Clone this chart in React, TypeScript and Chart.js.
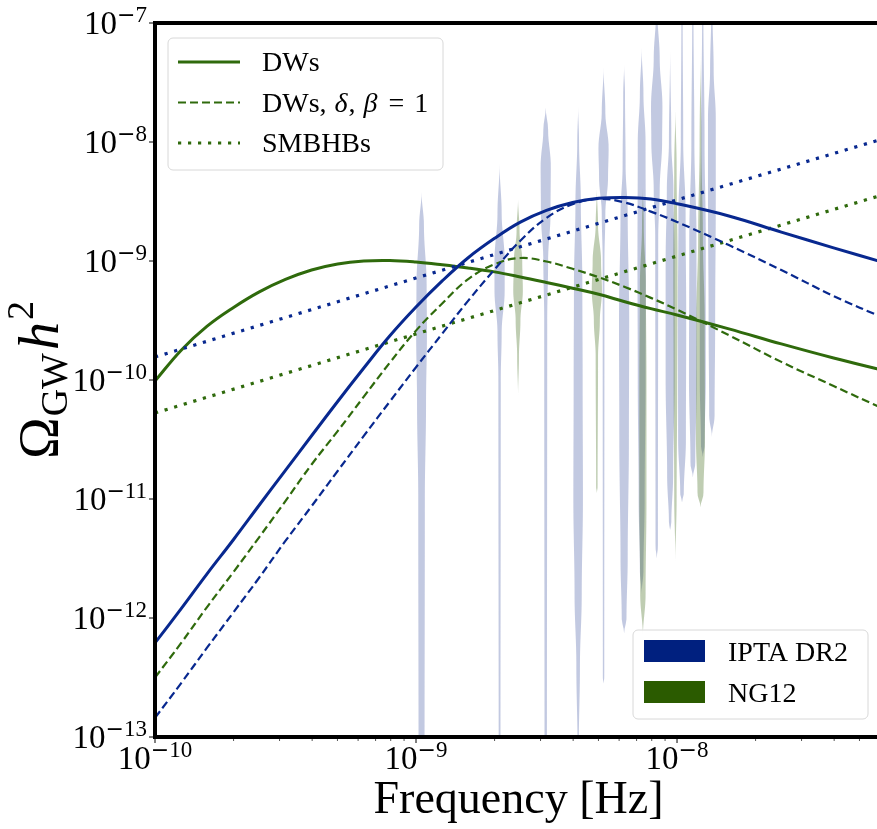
import React, { useEffect, useRef } from 'react';
import { Chart, registerables } from 'chart.js';

Chart.register(...registerables);

const SERIF = '"Liberation Serif", "Times New Roman", serif';
const MINUS_FONT = '"DejaVu Sans", sans-serif';

const BLUE_LINE = '#08288f';
const GREEN_LINE = '#2f6a0c';
const BLUE_PATCH = '#00207f';
const GREEN_PATCH = '#2b5b00';
const BLUE_VIOLIN = 'rgba(0, 31, 128, 0.24)';
const GREEN_VIOLIN = 'rgba(42, 90, 0, 0.30)';

// Frequencies (Hz) at which the model curves were read
const curveFreqs = [
  1e-10, 1.26e-10, 1.58e-10, 2e-10, 2.51e-10, 3.16e-10, 3.98e-10, 5.01e-10, 6.31e-10, 7.94e-10,
  1e-9, 1.26e-9, 1.58e-9, 2e-9, 2.51e-9, 3.16e-9, 3.98e-9, 5.01e-9, 6.31e-9, 7.94e-9,
  1e-8, 1.58e-8, 2.51e-8, 3.98e-8, 6.31e-8,
];
// DWs, NG12 fit (green solid)
const dwNG = [
  9.8e-11, 1.78e-10, 2.82e-10, 4.07e-10, 5.5e-10, 7.0e-10, 8.4e-10, 9.44e-10, 1.0e-9, 1.01e-9,
  9.8e-10, 9.3e-10, 8.75e-10, 8.1e-10, 7.35e-10, 6.6e-10, 5.9e-10, 5.25e-10, 4.55e-10, 3.98e-10,
  3.52e-10, 2.69e-10, 2.01e-10, 1.53e-10, 1.19e-10,
];
// DWs, IPTA DR2 fit (blue solid)
const dwIPTA = [
  6.17e-13, 1.2e-12, 2.34e-12, 4.57e-12, 8.9e-12, 1.74e-11, 3.4e-11, 6.6e-11, 1.26e-10, 2.35e-10,
  4.1e-10, 6.8e-10, 1.06e-9, 1.55e-9, 2.12e-9, 2.66e-9, 3.1e-9, 3.36e-9, 3.42e-9, 3.32e-9,
  3.03e-9, 2.39e-9, 1.75e-9, 1.29e-9, 9.6e-10,
];
// DWs, delta, beta = 1, NG12 (green dashed)
const dwDeltaNG = [
  3.16e-13, 6.17e-13, 1.23e-12, 2.44e-12, 4.79e-12, 9.6e-12, 1.95e-11, 3.72e-11, 7.24e-11, 1.4e-10,
  2.6e-10, 4.4e-10, 7.0e-10, 9.4e-10, 1.06e-9, 9.9e-10, 8.6e-10, 7.3e-10, 6.05e-10, 4.9e-10,
  3.9e-10, 2.38e-10, 1.42e-10, 8.9e-11, 5.6e-11,
];
// DWs, delta, beta = 1, IPTA DR2 (blue dashed)
const dwDeltaIPTA = [
  1.45e-13, 2.84e-13, 5.6e-13, 1.12e-12, 2.19e-12, 4.44e-12, 8.7e-12, 1.72e-11, 3.39e-11, 6.6e-11,
  1.28e-10, 2.45e-10, 4.6e-10, 8.5e-10, 1.48e-9, 2.3e-9, 3.0e-9, 3.32e-9, 3.1e-9, 2.6e-9,
  2.13e-9, 1.36e-9, 8.4e-10, 5.08e-10, 3.26e-10,
];
// SMBHBs power laws
const smbhbFreqs = [1e-10, 1e-9, 1e-8, 6.31e-8];
const smbhbIPTA = [1.56e-10, 7.2e-10, 3.26e-9, 1.08e-8];
const smbhbNG = [5.28e-11, 2.44e-10, 1.1e-9, 3.66e-9];

// Violins: frequency bins and [log10 Omega, relative density] profiles (top to bottom)
const iptaFreqs = [1.05e-9, 2.09e-9, 3.14e-9, 4.18e-9, 5.23e-9, 6.27e-9, 7.32e-9, 8.36e-9, 9.41e-9, 1.045e-8, 1.15e-8, 1.255e-8, 1.36e-8];
const iptaViolins: [number, number][][] = [
  [[-8.42, 0], [-8.7, 0.4], [-9.2, 0.85], [-9.6, 0.9], [-10.2, 0.75], [-11, 0.55], [-13.3, 0.5]],
  [[-8.18, 0], [-8.6, 0.35], [-9.0, 0.85], [-9.25, 0.85], [-9.6, 0.35], [-10.0, 0.2], [-13.3, 0.15]],
  [[-7.71, 0], [-7.9, 0.4], [-8.2, 0.85], [-8.6, 0.8], [-9.0, 0.4], [-9.5, 0.25], [-13.3, 0.2]],
  [[-7.70, 0], [-8.0, 0.15], [-8.5, 0.45], [-9.2, 0.7], [-10.0, 0.75], [-11.0, 0.8], [-11.8, 0.6], [-12.4, 0.3], [-13.1, 0.1]],
  [[-7.37, 0], [-7.75, 0.3], [-8.05, 0.85], [-8.3, 0.75], [-8.6, 0.3], [-9.0, 0.15], [-12.5, 0.12], [-12.55, 0]],
  [[-7.35, 0], [-7.6, 0.15], [-8.2, 0.25], [-8.6, 0.6], [-9.5, 0.85], [-10.5, 0.8], [-11.5, 0.6], [-12.0, 0.4], [-12.13, 0]],
  [[-7.2, 0], [-7.6, 0.3], [-8.0, 0.65], [-9.0, 0.7], [-10.0, 0.65], [-11.0, 0.5], [-11.6, 0.3], [-11.8, 0]],
  [[-6.9, 0.1], [-7.3, 0.5], [-7.7, 0.95], [-8.0, 0.9], [-8.4, 0.5], [-8.8, 0.25], [-11.4, 0.2], [-11.5, 0]],
  [[-7.2, 0], [-8.0, 0.2], [-8.4, 0.55], [-9.0, 0.75], [-10.0, 0.75], [-10.8, 0.5], [-11.2, 0.2], [-11.26, 0]],
  [[-6.9, 0.1], [-8.0, 0.2], [-8.6, 0.6], [-9.5, 0.7], [-10.5, 0.65], [-10.95, 0.3], [-11.03, 0]],
  [[-6.9, 0.1], [-8.0, 0.25], [-8.8, 0.6], [-10.0, 0.65], [-10.7, 0.4], [-10.82, 0]],
  [[-6.9, 0.1], [-8.0, 0.3], [-8.8, 0.5], [-10.0, 0.5], [-10.55, 0.3], [-10.65, 0]],
  [[-6.9, 0.1], [-7.4, 0.3], [-7.8, 0.65], [-8.5, 0.65], [-9.5, 0.55], [-10.3, 0.45], [-10.48, 0]],
];
const ngFreqs = [2.46e-9, 4.93e-9, 7.4e-9, 9.86e-9, 1.23e-8];
const ngViolins: [number, number][][] = [
  [[-8.47, 0], [-8.75, 0.25], [-9.0, 0.7], [-9.25, 0.8], [-9.5, 0.4], [-9.8, 0.15], [-10.14, 0]],
  [[-8.38, 0], [-8.7, 0.2], [-9.0, 0.7], [-9.25, 0.85], [-9.5, 0.5], [-9.8, 0.2], [-10.9, 0.12], [-10.95, 0]],
  [[-8.38, 0], [-8.7, 0.15], [-9.2, 0.5], [-10, 0.6], [-11, 0.6], [-11.8, 0.45], [-12.16, 0]],
  [[-7.71, 0], [-8.2, 0.2], [-9.0, 0.35], [-10.0, 0.3], [-11.0, 0.2], [-11.54, 0]],
  [[-7.24, 0], [-8.0, 0.15], [-8.8, 0.4], [-9.5, 0.7], [-10.5, 0.75], [-10.95, 0.5], [-11.07, 0]],
];

const xDecades = [-10, -9, -8, -7];
const yDecades = [-13, -12, -11, -10, -9, -8, -7];

const legendLines = ['DWs', 'DWs, δ, β = 1', 'SMBHBs'];
const legendPatches = ['IPTA DR2', 'NG12'];

const VIOLIN_HALF_WIDTH = 6;

function densityAt(profile: [number, number][], v: number) {
  for (let i = 0; i < profile.length - 1; i++) {
    const [a, da] = profile[i];
    const [b, db] = profile[i + 1];
    if (v <= a && v >= b) {
      const t = (a - v) / (a - b);
      const s = (1 - Math.cos(Math.PI * t)) / 2;
      return da + (db - da) * s;
    }
  }
  return 0;
}

function drawViolin(ctx: CanvasRenderingContext2D, chart: any, f: number, profile: [number, number][], color: string) {
  const xs = chart.scales.x;
  const ys = chart.scales.y;
  const cx = xs.getPixelForValue(f);
  const top = profile[0][0];
  const bot = profile[profile.length - 1][0];
  const N = 120;
  const pts: [number, number][] = [];
  for (let i = 0; i <= N; i++) {
    const v = top + ((bot - top) * i) / N;
    pts.push([ys.getPixelForValue(Math.pow(10, v)), densityAt(profile, v) * VIOLIN_HALF_WIDTH]);
  }
  ctx.beginPath();
  pts.forEach(([py, w], i) => (i ? ctx.lineTo(cx + w, py) : ctx.moveTo(cx + w, py)));
  for (let i = N; i >= 0; i--) ctx.lineTo(cx - pts[i][1], pts[i][0]);
  ctx.closePath();
  ctx.fillStyle = color;
  ctx.fill();
}

function drawPow(ctx: CanvasRenderingContext2D, exp: number, x: number, yc: number, align: 'center' | 'right') {
  const base = '10';
  const digits = String(Math.abs(exp));
  ctx.font = `33px ${SERIF}`;
  const wb = ctx.measureText(base).width;
  ctx.font = `22px ${MINUS_FONT}`;
  const wm = ctx.measureText('−').width;
  ctx.font = `23px ${SERIF}`;
  const wd = ctx.measureText(digits).width;
  const total = wb + wm + wd;
  const x0 = align === 'center' ? x - total / 2 : x - total;
  ctx.textAlign = 'left';
  ctx.textBaseline = 'alphabetic';
  ctx.fillStyle = '#000';
  ctx.font = `33px ${SERIF}`;
  ctx.fillText(base, x0, yc + 11);
  ctx.font = `22px ${MINUS_FONT}`;
  ctx.fillText('−', x0 + wb, yc - 1);
  ctx.font = `23px ${SERIF}`;
  ctx.fillText(digits, x0 + wb + wm, yc - 1);
}

type Piece = { t: string; font: string; dy: number; gap?: number };

function drawPieces(ctx: CanvasRenderingContext2D, pieces: Piece[], x: number, y: number) {
  let cx = x;
  for (const p of pieces) {
    ctx.font = p.font;
    ctx.fillText(p.t, cx, y + p.dy);
    cx += ctx.measureText(p.t).width + (p.gap || 0);
  }
  return cx;
}

function piecesWidth(ctx: CanvasRenderingContext2D, pieces: Piece[]) {
  let w = 0;
  for (const p of pieces) {
    ctx.font = p.font;
    w += ctx.measureText(p.t).width + (p.gap || 0);
  }
  return w;
}

function roundRect(ctx: CanvasRenderingContext2D, x: number, y: number, w: number, h: number, r: number) {
  ctx.beginPath();
  ctx.moveTo(x + r, y);
  ctx.lineTo(x + w - r, y);
  ctx.arcTo(x + w, y, x + w, y + r, r);
  ctx.lineTo(x + w, y + h - r);
  ctx.arcTo(x + w, y + h, x + w - r, y + h, r);
  ctx.lineTo(x + r, y + h);
  ctx.arcTo(x, y + h, x, y + h - r, r);
  ctx.lineTo(x, y + r);
  ctx.arcTo(x, y, x + r, y, r);
  ctx.closePath();
}

const violinPlugin = {
  id: 'violins',
  beforeDatasetsDraw(chart: any) {
    const { ctx, chartArea: ca } = chart;
    ctx.save();
    ctx.beginPath();
    ctx.rect(ca.left, ca.top, ca.right - ca.left, ca.bottom - ca.top);
    ctx.clip();
    iptaFreqs.forEach((f, i) => drawViolin(ctx, chart, f, iptaViolins[i], BLUE_VIOLIN));
    ngFreqs.forEach((f, i) => drawViolin(ctx, chart, f, ngViolins[i], GREEN_VIOLIN));
    ctx.restore();
  },
};

const decorPlugin = {
  id: 'decor',
  afterDraw(chart: any) {
    const { ctx, chartArea: ca } = chart;
    const xs = chart.scales.x;
    const ys = chart.scales.y;
    ctx.save();

    // legend 1 (line styles, green)
    {
      const lx = ca.left + 13;
      const ly = ca.top + 15;
      roundRect(ctx, lx, ly, 275, 132, 5);
      ctx.fillStyle = 'rgba(255,255,255,0.85)';
      ctx.fill();
      ctx.strokeStyle = '#d8d8d8';
      ctx.lineWidth = 1;
      ctx.stroke();
      const dsList = [chart.data.datasets[3], chart.data.datasets[4], chart.data.datasets[5]];
      dsList.forEach((ds: any, i: number) => {
        const ry = ly + 24 + i * 40.5;
        ctx.beginPath();
        ctx.strokeStyle = ds.borderColor;
        ctx.lineWidth = ds.borderWidth;
        ctx.setLineDash(ds.borderDash || []);
        ctx.moveTo(lx + 10, ry);
        ctx.lineTo(lx + 72, ry);
        ctx.stroke();
        ctx.setLineDash([]);
        ctx.fillStyle = '#000';
        ctx.textAlign = 'left';
        ctx.textBaseline = 'alphabetic';
        if (i === 1) {
          drawPieces(ctx, [
            { t: 'DWs, ', font: `28px ${SERIF}`, dy: 0, gap: 1 },
            { t: 'δ', font: `italic 28px ${SERIF}`, dy: 0, gap: 1 },
            { t: ', ', font: `28px ${SERIF}`, dy: 0, gap: 1 },
            { t: 'β', font: `italic 28px ${SERIF}`, dy: 0, gap: 4 },
            { t: ' = ', font: `28px ${SERIF}`, dy: 0, gap: 3 },
            { t: '1', font: `28px ${SERIF}`, dy: 0 },
          ], lx + 94, ry + 9);
        } else {
          ctx.font = `28px ${SERIF}`;
          ctx.fillText(legendLines[i], lx + 94, ry + 9);
        }
      });
    }

    // legend 2 (data patches)
    {
      const w = 235;
      const h = 89;
      const lx = ca.right - 14 - w;
      const ly = ca.bottom - 18 - h;
      roundRect(ctx, lx, ly, w, h, 5);
      ctx.fillStyle = 'rgba(255,255,255,0.85)';
      ctx.fill();
      ctx.strokeStyle = '#d8d8d8';
      ctx.lineWidth = 1;
      ctx.stroke();
      const cols = [BLUE_PATCH, GREEN_PATCH];
      legendPatches.forEach((t, i) => {
        const ry = ly + 21 + i * 41;
        ctx.fillStyle = cols[i];
        ctx.fillRect(lx + 11, ry - 11, 61, 22);
        ctx.fillStyle = '#000';
        ctx.font = `28px ${SERIF}`;
        ctx.textAlign = 'left';
        ctx.textBaseline = 'alphabetic';
        ctx.fillText(t, lx + 95, ry + 10);
      });
    }

    // tick marks
    ctx.lineWidth = 1;
    for (const d of xDecades) {
      for (let m = 1; m <= 9; m++) {
        const v = m * Math.pow(10, d);
        if (v < xs.min * 0.999 || v > xs.max) continue;
        const px = xs.getPixelForValue(v);
        ctx.beginPath();
        ctx.strokeStyle = m === 1 ? '#000' : '#555';
        ctx.moveTo(px, ca.bottom);
        ctx.lineTo(px, ca.bottom + (m === 1 ? 6 : 4));
        ctx.stroke();
      }
    }
    for (const d of yDecades) {
      const py = ys.getPixelForValue(Math.pow(10, d));
      ctx.beginPath();
      ctx.strokeStyle = '#000';
      ctx.moveTo(ca.left, py);
      ctx.lineTo(ca.left - 6, py);
      ctx.stroke();
    }

    // frame (left, bottom, top)
    ctx.strokeStyle = '#000';
    ctx.lineWidth = 4;
    ctx.beginPath();
    ctx.moveTo(ca.right + 2, ca.top);
    ctx.lineTo(ca.left, ca.top);
    ctx.lineTo(ca.left, ca.bottom);
    ctx.lineTo(ca.right + 2, ca.bottom);
    ctx.stroke();

    // tick labels
    for (const d of yDecades) {
      drawPow(ctx, d, ca.left - 8, ys.getPixelForValue(Math.pow(10, d)), 'right');
    }
    for (const d of xDecades) {
      const v = Math.pow(10, d);
      if (v > xs.max) continue;
      drawPow(ctx, d, xs.getPixelForValue(v), ca.bottom + 21, 'center');
    }

    // x title
    ctx.fillStyle = '#000';
    ctx.font = `46px ${SERIF}`;
    ctx.textAlign = 'center';
    ctx.textBaseline = 'alphabetic';
    ctx.fillText('Frequency [Hz]', (ca.left + ca.right) / 2, ca.bottom + 76);

    // y title
    const pieces: Piece[] = [
      { t: 'Ω', font: `56px ${SERIF}`, dy: 0, gap: 1 },
      { t: 'GW', font: `38px ${SERIF}`, dy: 9, gap: 3 },
      { t: 'h', font: `italic 56px ${SERIF}`, dy: 0, gap: 2 },
      { t: '2', font: `38px ${SERIF}`, dy: -25 },
    ];
    ctx.save();
    ctx.translate(58, (ca.top + ca.bottom) / 2);
    ctx.rotate(-Math.PI / 2);
    ctx.textAlign = 'left';
    const tw = piecesWidth(ctx, pieces);
    drawPieces(ctx, pieces, -tw / 2, 0);
    ctx.restore();

    ctx.restore();
  },
};

function mk(label: string, xsArr: number[], ysArr: number[], color: string, width: number, dash: number[], smooth: boolean) {
  return {
    label,
    data: xsArr.map((x, i) => ({ x, y: ysArr[i] })),
    borderColor: color,
    backgroundColor: color,
    borderWidth: width,
    borderDash: dash,
    pointRadius: 0,
    fill: false,
    tension: smooth ? 0.4 : 0,
  };
}

export default function App() {
  const ref = useRef<HTMLCanvasElement | null>(null);
  useEffect(() => {
    if (!ref.current) return;
    const chart = new Chart(ref.current, {
      type: 'line',
      data: {
        datasets: [
          mk('DWs IPTA', curveFreqs, dwIPTA, BLUE_LINE, 3, [], true),
          mk('DWs δ,β IPTA', curveFreqs, dwDeltaIPTA, BLUE_LINE, 2.2, [8, 4], true),
          mk('SMBHBs IPTA', smbhbFreqs, smbhbIPTA, BLUE_LINE, 3.2, [3.2, 6.8], false),
          mk('DWs', curveFreqs, dwNG, GREEN_LINE, 3, [], true),
          mk('DWs, δ, β = 1', curveFreqs, dwDeltaNG, GREEN_LINE, 2.2, [8, 4], true),
          mk('SMBHBs', smbhbFreqs, smbhbNG, GREEN_LINE, 3.2, [3.2, 6.8], false),
        ] as any,
      },
      options: {
        animation: false,
        responsive: false,
        devicePixelRatio: 1,
        events: [],
        layout: { padding: { top: 23, right: 8, left: 0, bottom: 0 } },
        plugins: { legend: { display: false }, tooltip: { enabled: false } },
        scales: {
          x: {
            type: 'logarithmic',
            min: 1e-10,
            max: 6.1e-8,
            grid: { display: false },
            border: { display: false },
            ticks: { display: false },
            afterFit: (s: any) => { s.height = 92; },
          },
          y: {
            type: 'logarithmic',
            min: 1e-13,
            max: 1e-7,
            grid: { display: false },
            border: { display: false },
            ticks: { display: false },
            afterFit: (s: any) => { s.width = 155; },
          },
        },
      } as any,
      plugins: [violinPlugin, decorPlugin],
    });
    return () => chart.destroy();
  }, []);
  return (
    <div style={{ position: 'absolute', left: 0, top: 0, width: 877, height: 829, overflow: 'hidden', background: '#fff' }}>
      <canvas ref={ref} width={890} height={829} style={{ width: 890, height: 829, display: 'block' }} />
    </div>
  );
}
